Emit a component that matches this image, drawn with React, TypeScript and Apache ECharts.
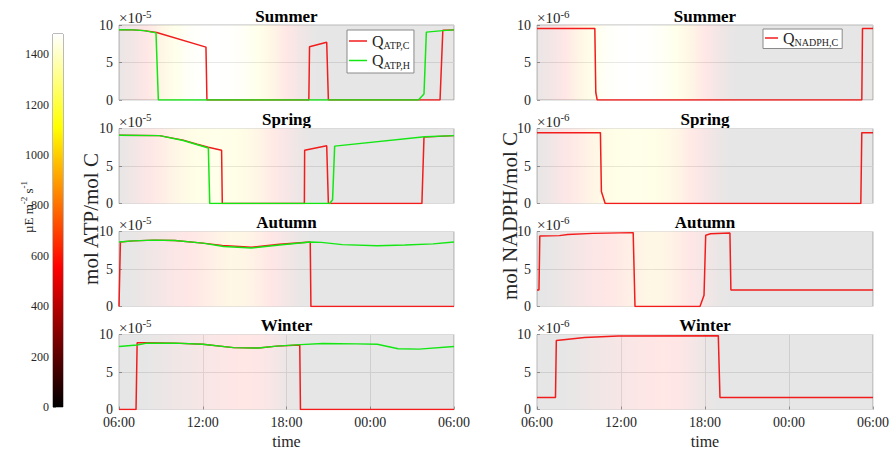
import { useEffect, useRef } from 'react';
import * as echarts from 'echarts';

const FONT = '"Liberation Serif", "Times New Roman", serif';
const TEXT = '#262626';

const seasons = ['Summer', 'Spring', 'Autumn', 'Winter'];

// Hours are counted from 06:00 (6) through midnight to 06:00 of the next day (30)
const hourTicks = [6, 12, 18, 24, 30];

// Light intensity (µE m^-2 s^-1) sampled every hour, 06:00 .. 06:00
const lightHours = [6, 7, 8, 9, 10, 11, 12, 13, 14, 15, 16, 17, 18, 19, 20, 21, 22, 23, 24, 25, 26, 27, 28, 29, 30];
const lightSummer = [100, 300, 580, 900, 1180, 1380, 1460, 1480, 1440, 1350, 1180, 900, 600, 280, 50, 0, 0, 0, 0, 0, 0, 0, 0, 0, 100];
const lightSpring = [40, 250, 500, 700, 900, 1050, 1150, 1180, 1150, 1050, 900, 650, 400, 150, 0, 0, 0, 0, 0, 0, 0, 0, 0, 0, 40];
const lightAutumn = [0, 60, 200, 350, 480, 580, 680, 820, 950, 920, 760, 560, 320, 100, 0, 0, 0, 0, 0, 0, 0, 0, 0, 0, 0];
const lightWinter = [0, 0, 40, 120, 220, 300, 380, 460, 540, 600, 560, 380, 150, 20, 0, 0, 0, 0, 0, 0, 0, 0, 0, 0, 0];
const colorbarMax = 1480;

// Q_ATP,C and Q_ATP,H in units of 1e-5 mol ATP/mol C, [hour, value]
const atpCSummer = [[6, 9.38], [7, 9.35], [7.8, 9.25], [8.7, 9.0], [12.23, 7.05], [12.3, 0], [19.6, 0], [19.65, 7.1], [20.88, 7.7], [21.0, 0], [29.0, 0], [29.2, 9.3], [30, 9.35]];
const atpHSummer = [[6, 9.38], [7, 9.35], [7.8, 9.25], [8.65, 8.95], [8.82, 0], [27.45, 0], [27.85, 0.8], [28.02, 9.05], [29.2, 9.25], [30, 9.35]];
const atpCSpring = [[6, 9.1], [8.9, 9.05], [10.6, 8.45], [11.6, 7.9], [12.4, 7.5], [13.35, 7.1], [13.4, 0], [19.28, 0], [19.3, 7.1], [20.88, 7.7], [21.0, 0], [27.7, 0], [27.85, 8.85], [30, 9.05]];
const atpHSpring = [[6, 9.1], [8.9, 9.05], [10.6, 8.4], [12.4, 7.4], [12.5, 0], [21.1, 0], [21.3, 0.5], [21.45, 7.65], [27.9, 8.9], [30, 9.05]];
const atpCAutumn = [[6, 0], [6.05, 0], [6.1, 8.6], [7, 8.75], [8.5, 8.85], [10, 8.8], [12, 8.45], [13.4, 8.15], [15.5, 7.9], [17.5, 8.3], [19.7, 8.6], [19.75, 0], [30, 0]];
const atpHAutumn = [[6, 8.6], [7, 8.75], [8.5, 8.85], [10, 8.8], [12, 8.45], [13.5, 8.0], [15.5, 7.8], [17.5, 8.2], [19.7, 8.6], [20.5, 8.55], [22, 8.25], [24.5, 8.1], [26.5, 8.2], [28.5, 8.35], [30, 8.6]];
const atpCWinter = [[6, 0], [7.22, 0], [7.3, 8.9], [8, 8.9], [10, 8.85], [12, 8.7], [14.2, 8.25], [16, 8.2], [17.3, 8.45], [18.95, 8.6], [19.0, 0], [30, 0]];
const atpHWinter = [[6, 8.4], [7.3, 8.6], [8, 8.85], [10, 8.85], [12, 8.7], [14.2, 8.25], [16, 8.2], [17.3, 8.45], [19, 8.65], [20.6, 8.8], [23, 8.75], [24.5, 8.7], [26, 8.1], [27.5, 8.05], [30, 8.4]];

// Q_NADPH,C in units of 1e-6 mol NADPH/mol C, [hour, value]
const nadphSummer = [[6, 9.55], [10.13, 9.55], [10.2, 1.0], [10.3, 0], [29.2, 0], [29.25, 9.55], [30, 9.55]];
const nadphSpring = [[6, 9.45], [10.53, 9.45], [10.6, 1.6], [10.87, 0], [29.13, 0], [29.2, 9.45], [30, 9.45]];
const nadphAutumn = [[6, 2.2], [6.14, 2.2], [6.2, 9.4], [7.6, 9.45], [8.2, 9.6], [10, 9.75], [12.87, 9.85], [13.0, 0], [17.64, 0], [17.93, 1.5], [18.05, 9.5], [18.4, 9.7], [19.78, 9.8], [19.85, 2.2], [30, 2.2]];
const nadphWinter = [[6, 1.6], [7.32, 1.6], [7.38, 9.2], [7.9, 9.3], [9.4, 9.6], [11.8, 9.8], [18.95, 9.85], [19.07, 1.6], [30, 1.6]];

const yTicks = [0, 5, 10];
const exponents = ['-5', '-6'];

const lightBySeason = [lightSummer, lightSpring, lightAutumn, lightWinter];
const atpC = [atpCSummer, atpCSpring, atpCAutumn, atpCWinter];
const atpH = [atpHSummer, atpHSpring, atpHAutumn, atpHWinter];
const nadphC = [nadphSummer, nadphSpring, nadphAutumn, nadphWinter];

const RED = '#f21c1c';
const GREEN = '#14e614';

// MATLAB-style "hot" colormap: black -> red -> yellow -> white
function hot(t: number): [number, number, number] {
  const c = (v: number) => Math.max(0, Math.min(1, v));
  return [c(t / 0.375), c((t - 0.375) / 0.375), c((t - 0.75) / 0.25)].map((v) => Math.round(v * 255)) as [number, number, number];
}

function lightGradient(values: number[]) {
  return {
    type: 'linear', x: 0, y: 0, x2: 1, y2: 0,
    colorStops: lightHours.map((h, i) => {
      const [r, g, b] = hot(values[i] / colorbarMax);
      return { offset: (h - lightHours[0]) / (lightHours[lightHours.length - 1] - lightHours[0]), color: `rgba(${r},${g},${b},0.1)` };
    }),
  };
}

function colorbarGradient() {
  const stops = [];
  for (let i = 0; i <= 32; i++) {
    const t = i / 32;
    const [r, g, b] = hot(t);
    stops.push({ offset: t, color: `rgb(${r},${g},${b})` });
  }
  return { type: 'linear', x: 0, y: 1, x2: 0, y2: 0, colorStops: stops };
}

const fmtHour = (v: number) => `${String(v % 24).padStart(2, '0')}:00`;

const colLeft = [119, 537];
const colWidth = [335, 336];
const rowTop = [25, 128.5, 231.5, 334.5];
const rowHeight = 75;

function buildOption() {
  const grid: any[] = [];
  const xAxis: any[] = [];
  const yAxis: any[] = [];
  const series: any[] = [];
  const graphic: any[] = [];

  for (let col = 0; col < 2; col++) {
    for (let row = 0; row < 4; row++) {
      const idx = grid.length;
      const bottom = row === 3;
      grid.push({
        left: colLeft[col], top: rowTop[row], width: colWidth[col], height: rowHeight,
        show: true, backgroundColor: '#fff', borderColor: '#b8b8b8', borderWidth: 1,
      });
      xAxis.push({
        gridIndex: idx, type: 'value', min: hourTicks[0], max: hourTicks[hourTicks.length - 1], interval: 6,
        axisLine: { show: false },
        axisTick: { show: bottom, inside: true, length: 3, lineStyle: { color: '#9a9a9a' } },
        axisLabel: { show: bottom, formatter: fmtHour, fontFamily: FONT, fontSize: 14, color: TEXT, margin: 6 },
        splitLine: { show: bottom, lineStyle: { color: '#e6e6e6', width: 1 } },
        name: bottom ? 'time' : '', nameLocation: 'middle', nameGap: 24,
        nameTextStyle: { fontFamily: FONT, fontSize: 16, color: TEXT },
      });
      yAxis.push({
        gridIndex: idx, type: 'value', min: yTicks[0], max: yTicks[yTicks.length - 1], interval: 5,
        axisLine: { show: false },
        axisTick: { show: true, inside: true, length: 3, lineStyle: { color: '#9a9a9a' } },
        axisLabel: { fontFamily: FONT, fontSize: 14, color: TEXT, margin: 6 },
        splitLine: { show: true, lineStyle: { color: '#e6e6e6', width: 1 } },
      });
      // daylight shading behind each panel
      series.push({
        type: 'line', name: 'light', xAxisIndex: idx, yAxisIndex: idx, data: [], silent: true, z: 1,
        markArea: {
          silent: true,
          label: { show: false },
          itemStyle: { color: lightGradient(lightBySeason[row]) },
          data: [[{ xAxis: hourTicks[0], yAxis: yTicks[0] }, { xAxis: hourTicks[hourTicks.length - 1], yAxis: yTicks[yTicks.length - 1] }]],
        },
      });
      const lineBase = { type: 'line', xAxisIndex: idx, yAxisIndex: idx, showSymbol: false, symbol: 'none', z: 3, silent: true };
      if (col === 0) {
        series.push({ ...lineBase, name: 'ATP,C', data: atpC[row], color: RED, lineStyle: { color: RED, width: 1.5 } });
        series.push({ ...lineBase, name: 'ATP,H', data: atpH[row], color: GREEN, lineStyle: { color: GREEN, width: 1.5 } });
      } else {
        series.push({ ...lineBase, name: 'NADPH,C', data: nadphC[row], color: RED, lineStyle: { color: RED, width: 1.5 } });
      }
      // panel title
      graphic.push({
        type: 'text', x: colLeft[col] + colWidth[col] / 2, y: rowTop[row] - 9,
        style: { text: seasons[row], fontFamily: FONT, fontSize: 17, fontWeight: 'bold', fill: '#000', textAlign: 'center', textVerticalAlign: 'middle' },
      });
      // axis exponent, e.g. ×10^-5
      graphic.push({
        type: 'text', x: colLeft[col], y: rowTop[row] - 7,
        style: {
          text: `{m|×10}{e|${exponents[col]}}`, textAlign: 'left', textVerticalAlign: 'middle',
          rich: {
            m: { fontFamily: FONT, fontSize: 15, fill: TEXT },
            e: { fontFamily: FONT, fontSize: 11, fill: TEXT, padding: [0, 0, 9, 0] },
          },
        },
      });
    }
  }

  // colour bar
  const cb = grid.length;
  grid.push({ left: 53, top: 34, width: 10, height: 373, show: true, borderColor: '#777', borderWidth: 1 });
  xAxis.push({ gridIndex: cb, type: 'category', data: ['light'], show: false });
  yAxis.push({
    gridIndex: cb, type: 'value', min: 0, max: colorbarMax, interval: 200, position: 'left',
    axisLine: { show: false },
    axisTick: { show: true, inside: true, length: 3, lineStyle: { color: '#777' } },
    axisLabel: { fontFamily: FONT, fontSize: 12, color: TEXT, margin: 4, showMaxLabel: false, formatter: (v: number) => String(v) },
    splitLine: { show: false },
  });
  series.push({
    type: 'bar', xAxisIndex: cb, yAxisIndex: cb, data: [colorbarMax], barWidth: '100%', silent: true,
    itemStyle: { color: colorbarGradient() }, z: 1,
  });

  graphic.push(
    {
      type: 'text', x: 91, y: 219, rotation: Math.PI / 2,
      style: { text: 'mol ATP/mol C', fontFamily: FONT, fontSize: 21, fill: TEXT, textAlign: 'center', textVerticalAlign: 'middle' },
    },
    {
      type: 'text', x: 510, y: 216, rotation: Math.PI / 2,
      style: { text: 'mol NADPH/mol C', fontFamily: FONT, fontSize: 21, fill: TEXT, textAlign: 'center', textVerticalAlign: 'middle' },
    },
    {
      type: 'text', x: 28, y: 207, rotation: Math.PI / 2,
      style: {
        text: '{t|µE m}{s|-2}{t| s}{s|-1}', textAlign: 'center', textVerticalAlign: 'middle',
        rich: {
          t: { fontFamily: FONT, fontSize: 13, fill: TEXT },
          s: { fontFamily: FONT, fontSize: 9, fill: TEXT, padding: [0, 0, 8, 0] },
        },
      },
    },
  );

  const legendBase = {
    orient: 'vertical', icon: 'rect', itemHeight: 1.5, itemGap: 2, selectedMode: false,
    backgroundColor: '#fff', borderColor: '#8a8a8a', borderWidth: 1,
    formatter: (n: string) => `{q|Q}{s|${n}}`,
    textStyle: {
      rich: {
        q: { fontFamily: FONT, fontSize: 16, color: TEXT },
        s: { fontFamily: FONT, fontSize: 10, color: TEXT, padding: [9, 0, 0, 0] },
      },
    },
  };

  return {
    animation: false,
    backgroundColor: '#fff',
    grid, xAxis, yAxis, series, graphic,
    legend: [
      { ...legendBase, data: ['ATP,C', 'ATP,H'], left: 347, top: 30, itemWidth: 18, padding: [3, 4, 3, 2] },
      { ...legendBase, data: ['NADPH,C'], left: 763, top: 29, itemWidth: 13, padding: [1, 4, 1, 2] },
    ],
  };
}

export default function App() {
  const ref = useRef<HTMLDivElement>(null);
  useEffect(() => {
    const chart = echarts.init(ref.current!, undefined, { renderer: 'svg' });
    chart.setOption(buildOption() as any);
    return () => chart.dispose();
  }, []);
  return <div ref={ref} style={{ position: 'fixed', left: 0, top: 0, width: 895, height: 452, background: '#fff' }} />;
}
